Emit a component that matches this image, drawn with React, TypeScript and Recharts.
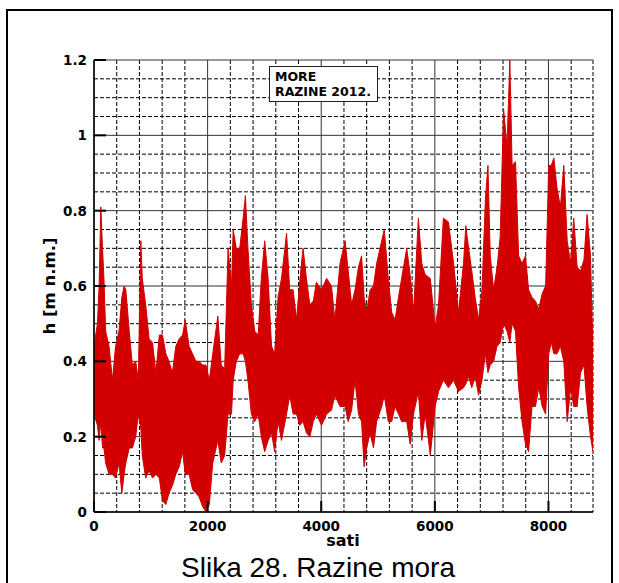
import React from 'react';
import { ComposedChart, Area, XAxis, YAxis, CartesianGrid } from 'recharts';

// hour of year (sati)
const hours = [
  0, 60, 90, 120, 150, 175, 205, 265, 325, 380,
  440, 490, 530, 560, 620, 675, 735, 780, 825, 850,
  910, 970, 1030, 1090, 1150, 1205, 1265, 1320, 1380, 1440,
  1500, 1560, 1605, 1675, 1735, 1795, 1850, 1910, 1970, 2030,
  2090, 2180, 2240, 2300, 2360, 2420, 2450, 2505, 2565, 2625,
  2665, 2710, 2770, 2830, 2890, 2945, 3005, 3065, 3125, 3180,
  3240, 3300, 3390, 3445, 3505, 3565, 3620, 3680, 3740, 3800,
  3860, 3915, 4005, 4095, 4180, 4240, 4330, 4420, 4475, 4535,
  4595, 4655, 4710, 4755, 4800, 4860, 4920, 4975, 5065, 5110,
  5180, 5240, 5300, 5360, 5415, 5505, 5565, 5625, 5710, 5770,
  5830, 5920, 6005, 6065, 6150, 6240, 6330, 6415, 6505, 6545,
  6595, 6650, 6710, 6770, 6830, 6890, 6935, 6975, 7035, 7095,
  7150, 7210, 7270, 7320, 7360, 7420, 7475, 7535, 7595, 7650,
  7710, 7770, 7830, 7890, 7950, 8005, 8050, 8095, 8150, 8210,
  8270, 8330, 8390, 8445, 8505, 8565, 8625, 8680, 8740, 8784,
];

// upper envelope of sea level h [m n.m.]
const levelHigh = [
  0.44, 0.50, 0.60, 0.81, 0.70, 0.62, 0.48, 0.44, 0.35, 0.44,
  0.48, 0.57, 0.60, 0.59, 0.48, 0.39, 0.40, 0.35, 0.72, 0.62,
  0.55, 0.46, 0.45, 0.37, 0.47, 0.47, 0.42, 0.40, 0.37, 0.44,
  0.46, 0.47, 0.51, 0.44, 0.42, 0.40, 0.40, 0.39, 0.39, 0.35,
  0.42, 0.52, 0.39, 0.38, 0.70, 0.60, 0.75, 0.70, 0.70, 0.78,
  0.84, 0.70, 0.55, 0.48, 0.47, 0.62, 0.72, 0.62, 0.44, 0.42,
  0.57, 0.62, 0.74, 0.59, 0.59, 0.51, 0.61, 0.70, 0.62, 0.55,
  0.56, 0.61, 0.59, 0.62, 0.60, 0.51, 0.66, 0.72, 0.64, 0.55,
  0.59, 0.65, 0.68, 0.57, 0.53, 0.59, 0.60, 0.66, 0.72, 0.75,
  0.62, 0.53, 0.51, 0.57, 0.62, 0.70, 0.63, 0.53, 0.78, 0.66,
  0.63, 0.62, 0.49, 0.55, 0.78, 0.77, 0.66, 0.53, 0.66, 0.76,
  0.70, 0.64, 0.57, 0.51, 0.59, 0.83, 0.92, 0.68, 0.59, 0.65,
  0.73, 1.07, 0.97, 1.20, 0.92, 0.93, 0.68, 0.66, 0.68, 0.59,
  0.57, 0.56, 0.54, 0.58, 0.60, 0.92, 0.92, 0.94, 0.86, 0.81,
  0.92, 0.72, 0.66, 0.78, 0.65, 0.64, 0.67, 0.79, 0.68, 0.42,
];

// lower envelope of sea level h [m n.m.]
const levelLow = [
  0.26, 0.23, 0.19, 0.24, 0.17, 0.17, 0.13, 0.10, 0.10, 0.09,
  0.13, 0.05, 0.10, 0.13, 0.17, 0.17, 0.20, 0.26, 0.22, 0.15,
  0.09, 0.11, 0.09, 0.10, 0.09, 0.03, 0.02, 0.05, 0.07, 0.10,
  0.12, 0.16, 0.10, 0.10, 0.06, 0.05, 0.04, 0.015, 0.0, 0.02,
  0.13, 0.19, 0.13, 0.15, 0.26, 0.26, 0.35, 0.40, 0.42, 0.42,
  0.40, 0.35, 0.26, 0.24, 0.26, 0.20, 0.16, 0.19, 0.21, 0.16,
  0.24, 0.19, 0.26, 0.31, 0.26, 0.26, 0.23, 0.24, 0.21, 0.20,
  0.24, 0.26, 0.23, 0.26, 0.27, 0.31, 0.28, 0.28, 0.24, 0.27,
  0.35, 0.26, 0.24, 0.12, 0.17, 0.21, 0.17, 0.24, 0.28, 0.31,
  0.24, 0.24, 0.28, 0.26, 0.24, 0.24, 0.18, 0.26, 0.32, 0.19,
  0.26, 0.15, 0.28, 0.32, 0.35, 0.33, 0.35, 0.32, 0.33, 0.34,
  0.36, 0.33, 0.36, 0.31, 0.35, 0.42, 0.37, 0.39, 0.40, 0.44,
  0.45, 0.50, 0.48, 0.45, 0.50, 0.48, 0.33, 0.24, 0.18, 0.16,
  0.28, 0.28, 0.33, 0.28, 0.26, 0.42, 0.45, 0.42, 0.42, 0.44,
  0.40, 0.24, 0.33, 0.28, 0.28, 0.37, 0.39, 0.28, 0.20, 0.16,
];

const xTicks = [0, 2000, 4000, 6000, 8000];
const xMinor = [400, 800, 1200, 1600, 2400, 2800, 3200, 3600, 4400, 4800, 5200, 5600, 6400, 6800, 7200, 7600, 8400, 8784];
const yTicks = [0, 0.2, 0.4, 0.6, 0.8, 1, 1.2];
const yMinor = [0.05, 0.1, 0.15, 0.25, 0.3, 0.35, 0.45, 0.5, 0.55, 0.65, 0.7, 0.75, 0.85, 0.9, 0.95, 1.05, 1.1, 1.15];

const data = hours.map((h, i) => ({ h, range: [levelLow[i], levelHigh[i]] }));

const tickFont = '"DejaVu Sans", Verdana, sans-serif';
const RED = '#d20000';

const XTick = (props: any) => {
  const { x, y, payload } = props;
  return (
    <g>
      <line x1={x} y1={y} x2={x} y2={y - 11} stroke="#000" strokeWidth={2} />
      <text x={x} y={y + 19} textAnchor="middle" fontFamily={tickFont} fontWeight="bold" fontSize={13.5} fill="#000">
        {payload.value}
      </text>
    </g>
  );
};

const fmtY = (v: number) => (v === 0 ? '0' : v === 1 ? '1' : v.toFixed(1));

const YTick = (props: any) => {
  const { x, y, payload } = props;
  return (
    <g>
      <line x1={x} y1={y} x2={x + 12} y2={y} stroke="#000" strokeWidth={2} />
      <text x={x - 7} y={y + 5} textAnchor="end" fontFamily={tickFont} fontWeight="bold" fontSize={13.5} fill="#000">
        {fmtY(payload.value)}
      </text>
    </g>
  );
};

export default function App() {
  return (
    <div style={{ position: 'absolute', left: 0, top: 0, width: 619, height: 583, background: '#fff', overflow: 'hidden' }}>
      <div
        style={{
          position: 'absolute', left: 6, top: 9, width: 607, height: 574,
          borderLeft: '2px solid #000', borderTop: '2px solid #000', borderRight: '2px solid #000',
          boxSizing: 'border-box',
        }}
      />
      <div style={{ position: 'absolute', left: 0, top: 0 }}>
        <ComposedChart width={619} height={583} data={data} margin={{ top: 60, right: 26, bottom: 41, left: 34 }}>
          <CartesianGrid
            stroke="#000"
            strokeDasharray="4 2"
            strokeWidth={1}
            horizontalValues={yMinor}
            verticalValues={xMinor}
          />
          <CartesianGrid
            stroke="#333"
            strokeWidth={1}
            horizontalValues={yTicks}
            verticalValues={xTicks}
          />
          <XAxis
            dataKey="h"
            type="number"
            domain={[0, 8784]}
            ticks={xTicks}
            interval={0}
            allowDataOverflow
            tick={<XTick />}
            tickLine={false}
            tickSize={0}
            tickMargin={0}
            height={30}
            axisLine={{ stroke: '#000', strokeWidth: 1.5 }}
          />
          <YAxis
            type="number"
            domain={[0, 1.2]}
            ticks={yTicks}
            interval={0}
            allowDataOverflow
            tick={<YTick />}
            tickLine={false}
            tickSize={0}
            tickMargin={0}
            width={60}
            axisLine={{ stroke: '#000', strokeWidth: 1.5 }}
          />
          <Area
            dataKey="range"
            type="linear"
            stroke={RED}
            strokeWidth={1}
            fill={RED}
            fillOpacity={1}
            dot={false}
            activeDot={false}
            isAnimationActive={false}
          />
        </ComposedChart>
      </div>
      <div
        style={{
          position: 'absolute', left: 269, top: 66, width: 109, height: 36, boxSizing: 'border-box',
          border: '1px solid #222', background: '#fff', fontFamily: tickFont, fontWeight: 'bold',
          fontSize: 12.5, lineHeight: '15px', padding: '2px 0 0 5px', color: '#000', whiteSpace: 'nowrap',
        }}
      >
        <div>MORE</div>
        <div>RAZINE 2012.</div>
      </div>
      <div
        style={{
          position: 'absolute', left: 50, top: 286, width: 0, height: 0,
        }}
      >
        <div
          style={{
            position: 'absolute', transform: 'translate(-50%, -50%) rotate(-90deg)', whiteSpace: 'nowrap',
            fontFamily: tickFont, fontWeight: 'bold', fontSize: 16.5, color: '#000', lineHeight: '20px',
          }}
        >
          h [m n.m.]
        </div>
      </div>
      <div
        style={{
          position: 'absolute', left: 243, width: 200, top: 531, textAlign: 'center',
          fontFamily: tickFont, fontWeight: 'bold', fontSize: 16, lineHeight: '20px', color: '#000',
        }}
      >
        sati
      </div>
      <div
        style={{
          position: 'absolute', left: 118, width: 400, top: 552, textAlign: 'center',
          fontFamily: '"Liberation Sans", Arial, sans-serif', fontSize: 28, lineHeight: '32px', color: '#000',
        }}
      >
        Slika 28. Razine mora
      </div>
    </div>
  );
}
